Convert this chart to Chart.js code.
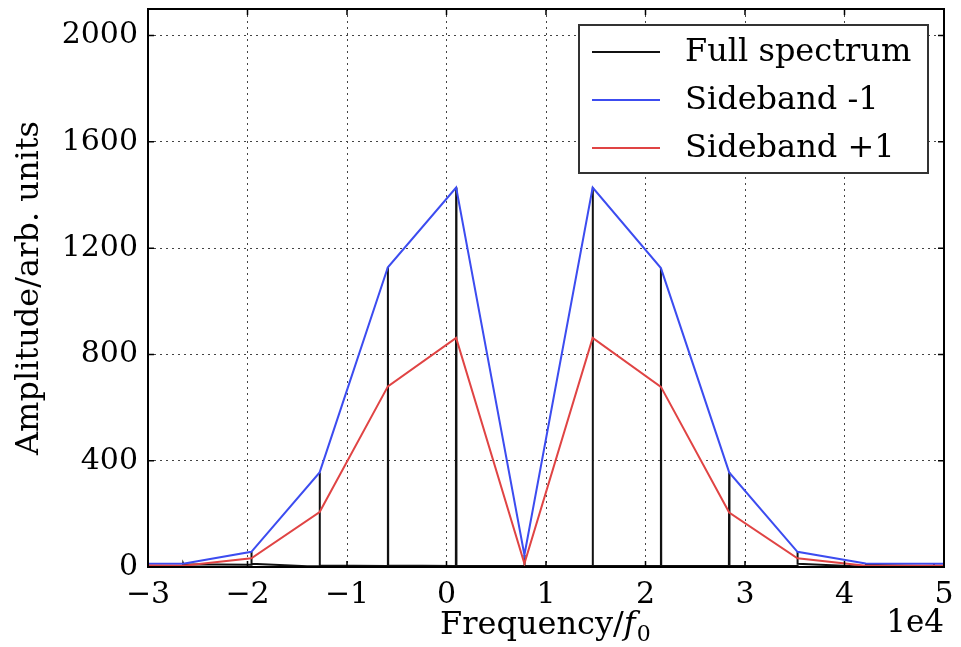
<!DOCTYPE html>
<html>
<head>
<meta charset="utf-8">
<script src="https://cdn.jsdelivr.net/npm/chart.js@4.4.1/dist/chart.umd.min.js"></script>
<style>
  html, body { margin: 0; padding: 0; background: #fff; }
  #wrap { width: 961px; height: 647px; }
</style>
</head>
<body>
<div id="wrap"><canvas id="chart" width="961" height="647"></canvas></div>
<script>
// Sideband sample frequencies (raw units, axis shows them /1e4)
const bandFreq = [-33330, -26470, -19610, -12750, -5890, 970, 7830, 14690, 21550, 28410, 35270, 42130, 48990, 55850];
const sidebandMinus = [13, 12, 57, 356, 1128, 1428, 45, 1428, 1125, 356, 57, 13, 12, 12];
const sidebandPlus = [6, 5, 33, 207, 680, 862, 13, 862, 678, 205, 33, 5, 5, 5];

// Full spectrum: narrow spikes on a small floor
const fullFreq = [
    -33330,
    -26500, -26470, -26440,
    -19640, -19610, -19580,
    -14000,
    -12780, -12750, -12720,
    -5920, -5890, -5860,
    940, 970, 1000,
    7800, 7830, 7860,
    14660, 14690, 14720,
    21520, 21550, 21580,
    28380, 28410, 28440,
    35240, 35270, 35300,
    41000,
    42100, 42130, 42160,
    48960, 48990, 49020,
    55850
];
const fullAmp = [
    3,
    3, 13, 10,
    8, 57, 12,
    3,
    3, 356, 6,
    4, 1128, 6,
    4, 1428, 5,
    4, 45, 5,
    4, 1428, 5,
    4, 1125, 5,
    4, 356, 5,
    4, 57, 12,
    3,
    3, 13, 8,
    3, 12, 3,
    3
];

const xTicks = [-30000, -20000, -10000, 0, 10000, 20000, 30000, 40000, 50000];
const yTicks = [0, 400, 800, 1200, 1600, 2000];

const seriesNames = ['Full spectrum', 'Sideband -1', 'Sideband +1'];
const seriesColors = ['#111111', '#3c4cf0', '#e04444'];

const FONT = '"DejaVu Serif", "Liberation Serif", serif';

function toPoints(xs, ys) {
    return xs.map((x, i) => ({ x: x, y: ys[i] }));
}

// inner ticks, frame, legend and x title drawn on top
const framePlugin = {
    id: 'frame',
    afterDraw(chart) {
        const ctx = chart.ctx;
        const a = chart.chartArea;
        const xs = chart.scales.x, ys = chart.scales.y;
        ctx.save();
        ctx.strokeStyle = '#000';
        ctx.lineWidth = 1.5;
        ctx.beginPath();
        xTicks.forEach(t => {
            const px = xs.getPixelForValue(t);
            ctx.moveTo(px, a.bottom); ctx.lineTo(px, a.bottom - 6);
            ctx.moveTo(px, a.top); ctx.lineTo(px, a.top + 6);
        });
        yTicks.forEach(t => {
            const py = ys.getPixelForValue(t);
            ctx.moveTo(a.left, py); ctx.lineTo(a.left + 6, py);
            ctx.moveTo(a.right, py); ctx.lineTo(a.right - 6, py);
        });
        ctx.stroke();
        ctx.lineWidth = 2;
        ctx.strokeRect(a.left, a.top, a.right - a.left, a.bottom - a.top);

        // legend box
        const bx = 579, by = 25, bw = 349, bh = 148;
        ctx.fillStyle = '#fff';
        ctx.fillRect(bx, by, bw, bh);
        ctx.strokeStyle = '#333';
        ctx.lineWidth = 2;
        ctx.strokeRect(bx, by, bw, bh);
        ctx.font = '32px ' + FONT;
        ctx.textBaseline = 'middle';
        ctx.textAlign = 'left';
        const rows = [52, 100, 148];
        seriesNames.forEach((name, i) => {
            ctx.strokeStyle = seriesColors[i];
            ctx.lineWidth = 2;
            ctx.beginPath();
            ctx.moveTo(592, rows[i]);
            ctx.lineTo(660, rows[i]);
            ctx.stroke();
            ctx.fillStyle = '#000';
            ctx.fillText(name, 685, rows[i] + 1);
        });

        // x axis title with italic f and subscript 0
        ctx.textBaseline = 'alphabetic';
        ctx.font = '32px ' + FONT;
        const part1 = 'Frequency/';
        const w1 = ctx.measureText(part1).width;
        ctx.font = 'italic 32px ' + FONT;
        const w2 = ctx.measureText('f').width;
        ctx.font = '22px ' + FONT;
        const w3 = ctx.measureText('0').width;
        let x0 = 440;
        const base = 634;
        ctx.font = '32px ' + FONT;
        ctx.fillText(part1, x0, base);
        ctx.font = 'italic 32px ' + FONT;
        ctx.fillText('f', x0 + w1, base);
        ctx.font = '22px ' + FONT;
        ctx.fillText('0', x0 + w1 + w2 + 1, base + 7);

        // offset text
        ctx.font = '31px ' + FONT;
        ctx.textAlign = 'right';
        ctx.fillText('1e4', 944, 632);
        ctx.restore();
    }
};

document.addEventListener('DOMContentLoaded', function () {
    const ctx = document.getElementById('chart').getContext('2d');

    new Chart(ctx, {
        type: 'line',
        data: {
            datasets: [
                {
                    label: seriesNames[0],
                    data: toPoints(fullFreq, fullAmp),
                    borderColor: seriesColors[0],
                    borderWidth: 2,
                    pointRadius: 0,
                    tension: 0,
                    order: 3
                },
                {
                    label: seriesNames[1],
                    data: toPoints(bandFreq, sidebandMinus),
                    borderColor: seriesColors[1],
                    borderWidth: 2,
                    pointRadius: 0,
                    tension: 0,
                    order: 2
                },
                {
                    label: seriesNames[2],
                    data: toPoints(bandFreq, sidebandPlus),
                    borderColor: seriesColors[2],
                    borderWidth: 2,
                    pointRadius: 0,
                    tension: 0,
                    order: 1
                }
            ]
        },
        options: {
            responsive: false,
            animation: false,
            layout: { padding: { top: 9, right: 17, left: 0, bottom: 0 } },
            plugins: {
                legend: { display: false },
                tooltip: { enabled: false }
            },
            scales: {
                x: {
                    type: 'linear',
                    min: -30000,
                    max: 50000,
                    afterFit: s => { s.height = 80; s.paddingLeft = 0; s.paddingRight = 0; },
                    afterBuildTicks: s => { s.ticks = xTicks.map(v => ({ value: v })); },
                    border: { display: false, dash: [2, 4] },
                    grid: {
                        color: '#444',
                        lineWidth: 1,
                        drawTicks: false
                    },
                    ticks: {
                        padding: 10,
                        color: '#000',
                        font: { family: FONT, size: 30 },
                        maxRotation: 0,
                        callback: v => {
                            const n = v / 10000;
                            return n < 0 ? '\u2212' + Math.abs(n) : String(n);
                        }
                    }
                },
                y: {
                    min: 0,
                    max: 2100,
                    afterFit: s => { s.width = 148; s.paddingTop = 0; s.paddingBottom = 0; },
                    afterBuildTicks: s => { s.ticks = yTicks.map(v => ({ value: v })); },
                    border: { display: false, dash: [2, 4] },
                    grid: {
                        color: '#444',
                        lineWidth: 1,
                        drawTicks: false
                    },
                    ticks: {
                        padding: 10,
                        color: '#000',
                        font: { family: FONT, size: 30 },
                        callback: v => String(v)
                    },
                    title: {
                        display: true,
                        text: 'Amplitude/arb. units',
                        color: '#000',
                        font: { family: FONT, size: 32 },
                        padding: { top: 10, bottom: 0 }
                    }
                }
            }
        },
        plugins: [framePlugin]
    });
});
</script>
</body>
</html>
